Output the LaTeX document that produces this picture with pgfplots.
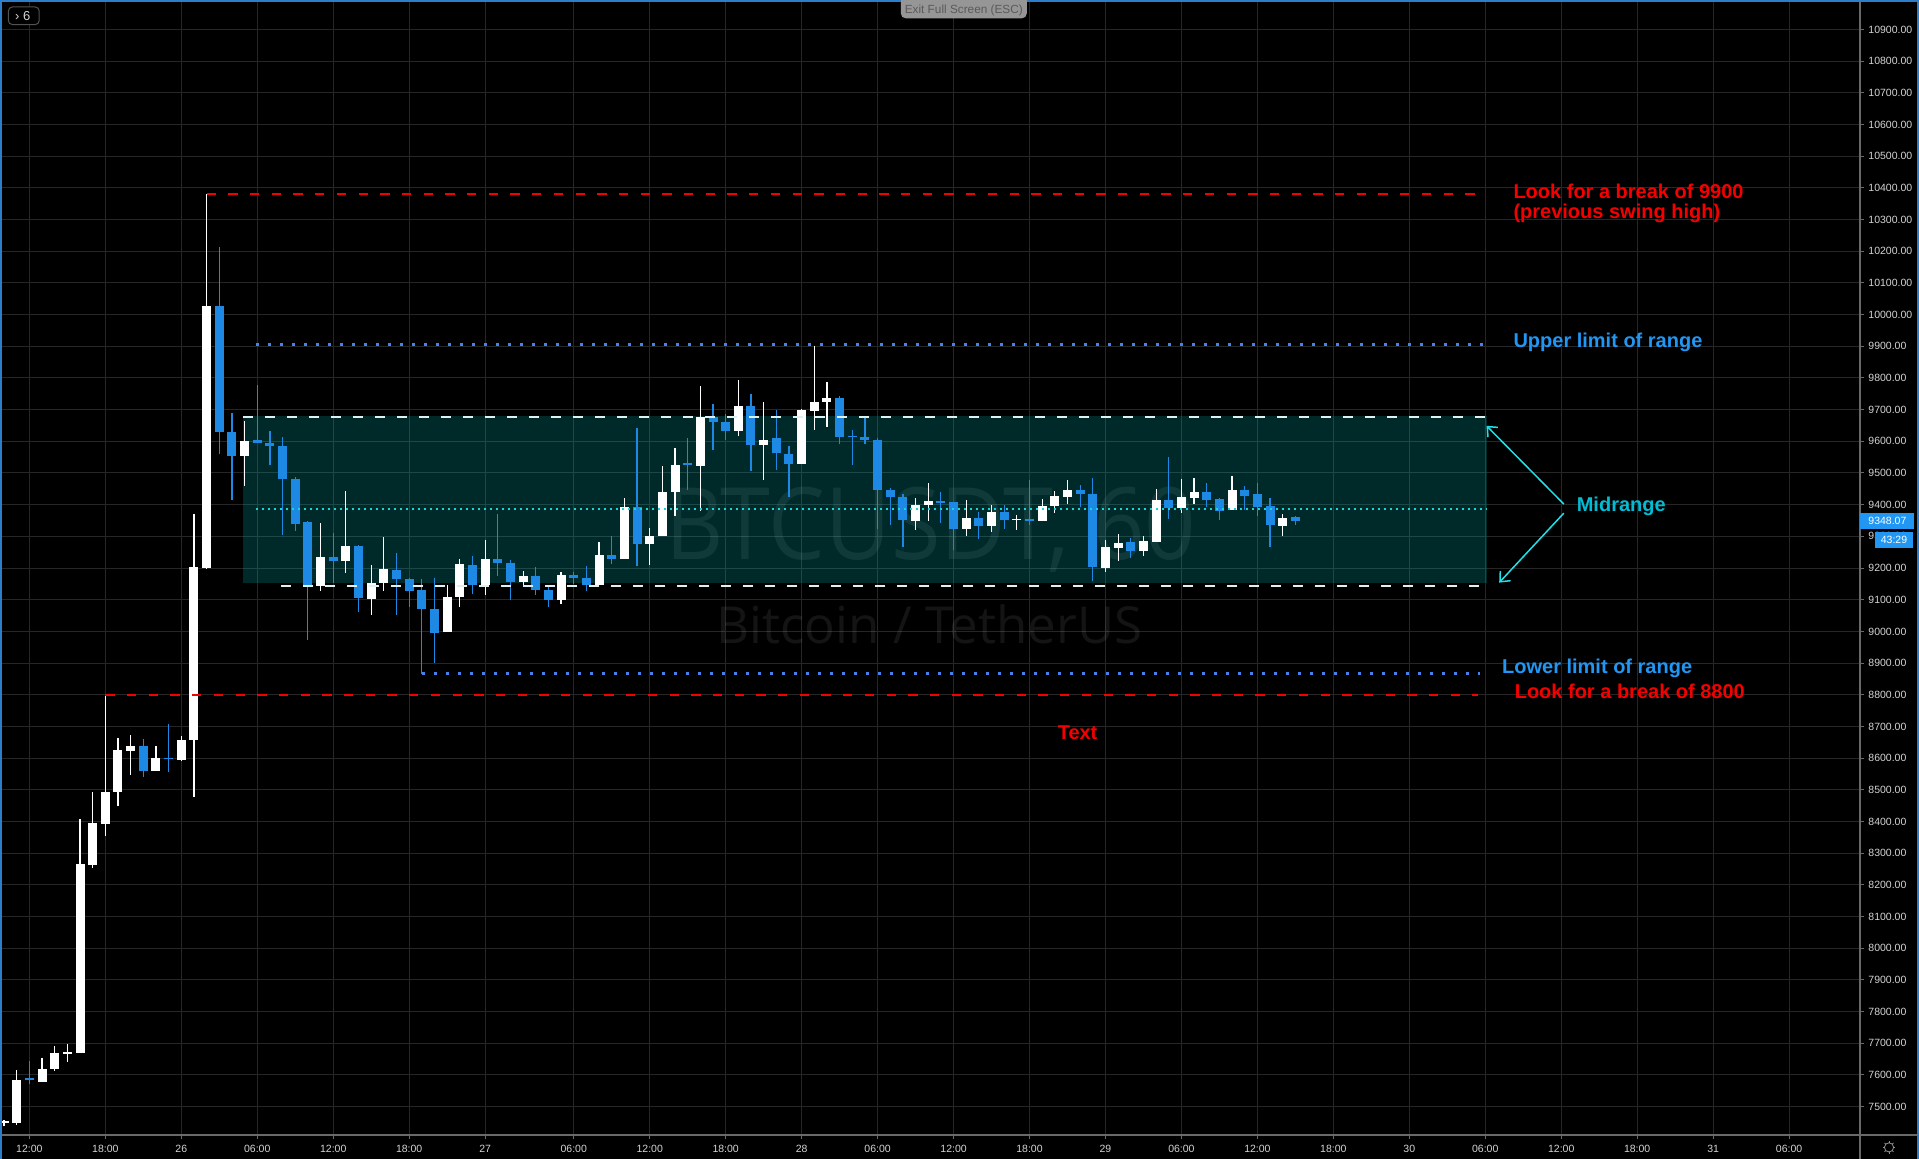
\documentclass[border=0pt]{standalone}
\usepackage{pgfplots}
\pgfplotsset{compat=1.18}
\usepackage{pgfplotstable}
\usepackage{fontspec}
\setmainfont{Liberation Sans}
\newfontfamily\wmfont{Open Sans}
\usetikzlibrary{arrows.meta}

\definecolor{bg}{RGB}{0,0,0}
\definecolor{gridc}{RGB}{38,38,38}
\definecolor{axisc}{RGB}{105,105,105}
\definecolor{ticktext}{RGB}{212,212,212}
\definecolor{bull}{RGB}{255,255,255}
\definecolor{bear}{RGB}{30,136,229}
\definecolor{rangefill}{RGB}{0,210,210}
\definecolor{rangeedge}{RGB}{222,240,240}
\definecolor{midc}{RGB}{20,215,215}
\definecolor{limitc}{RGB}{70,130,235}
\definecolor{breakc}{RGB}{245,0,0}
\definecolor{labelblue}{RGB}{33,150,243}
\definecolor{labelcyan}{RGB}{0,188,212}
\definecolor{arrowc}{RGB}{30,225,235}
\definecolor{framec}{RGB}{45,125,205}
\definecolor{pricebox}{RGB}{33,150,243}
\definecolor{hintfill}{RGB}{150,150,150}
\definecolor{hinttext}{RGB}{90,90,90}

% hourly BTCUSDT candles, x = bar index (0 = 25th 12:00)
\pgfplotstableread{
i    o      h      l      c
-2   7447   7458   7440   7455
-1   7448   7616   7443   7585
0    7590   7643   7570   7585
1    7578   7652   7578   7620
2    7620   7691   7612   7669
3    7665   7698   7640   7672
4    7668   8408   7668   8266
5    8264   8494   8252   8395
6    8393   8800   8354   8494
7    8492   8665   8448   8626
8    8624   8673   8546   8637
9    8637   8660   8539   8558
10   8560   8637   8559   8601
11   8602   8709   8555   8597
12   8593   8671   8591   8657
13   8656   9372   8477   9202
14   9200   10380  9198   10028
15   10028  10212  9561   9630
16   9630   9690   9416   9553
17   9553   9665   9458   9602
18   9604   9779   9594   9594
19   9595   9634   9526   9584
20   9586   9614   9303   9481
21   9482   9488   9316   9339
22   9346   9350   8972   9141
23   9142   9343   9126   9236
24   9236   9312   9152   9221
25   9221   9444   9183   9271
26   9271   9274   9060   9104
27   9101   9211   9053   9154
28   9154   9299   9129   9198
29   9195   9248   9051   9165
30   9166   9168   9076   9129
31   9132   9166   8866   9071
32   9072   9169   8900   8995
33   8997   9146   8997   9109
34   9107   9230   9076   9214
35   9210   9239   9119   9148
36   9145   9289   9114   9229
37   9228   9372   9176   9216
38   9217   9226   9098   9155
39   9155   9190   9142   9176
40   9176   9204   9114   9131
41   9132   9142   9076   9099
42   9099   9188   9088   9179
43   9179   9188   9150   9167
44   9169   9207   9129   9148
45   9147   9283   9147   9242
46   9241   9300   9212   9229
47   9229   9422   9229   9394
48   9394   9643   9207   9275
49   9275   9327   9211   9302
50   9300   9523   9300   9441
51   9439   9580   9363   9525
52   9532   9612   9445   9524
53   9521   9776   9379   9678
54   9678   9719   9572   9661
55   9662   9687   9603   9632
56   9632   9795   9616   9713
57   9713   9750   9505   9587
58   9587   9723   9477   9605
59   9612   9700   9511   9562
60   9561   9584   9423   9527
61   9527   9703   9527   9698
62   9695   9902   9635   9725
63   9723   9786   9644   9738
64   9737   9744   9593   9613
65   9618   9637   9526   9613
66   9614   9681   9593   9603
67   9605   9611   9324   9445
68   9447   9453   9337   9424
69   9424   9434   9265   9351
70   9347   9421   9321   9400
71   9398   9468   9347   9413
72   9413   9440   9342   9407
73   9409   9409   9256   9323
74   9323   9416   9300   9359
75   9359   9376   9293   9332
76   9332   9400   9313   9378
77   9378   9400   9324   9352
78   9352   9368   9321   9355
79   9356   9479   9337   9347
80   9347   9419   9347   9397
81   9396   9442   9374   9426
82   9424   9479   9403   9447
83   9447   9463   9393   9434
84   9435   9484   9160   9202
85   9200   9288   9187   9266
86   9263   9307   9222   9278
87   9282   9295   9232   9255
88   9255   9301   9239   9285
89   9283   9449   9283   9415
90   9415   9551   9356   9391
91   9389   9481   9374   9424
92   9421   9484   9402   9440
93   9440   9468   9394   9416
94   9418   9421   9352   9381
95   9383   9491   9383   9446
96   9446   9459   9383   9428
97   9434   9468   9364   9394
98   9396   9421   9267   9337
99   9333   9371   9301   9358
100  9361   9364   9336   9348.07
}\candles

\newcommand{\ticksize}{\fontsize{5.25}{6.3}\selectfont}
\newcommand{\notesize}{\bfseries\fontsize{10}{12}\selectfont}

% one candle layer: wicks or bodies drawn as vertical error bars
% #1 = domain of close-open, #2 = bar width, #3 = colour
\pgfplotsset{
  candle layer/.style n args={3}{
    draw=none, mark=none, forget plot,
    restrict expr to domain={\thisrow{c}-\thisrow{o}}{#1},
    error bars/.cd, y dir=both, y explicit, error mark=none,
    error bar style={line width=#2, draw=#3},
  },
}

\begin{document}
\begin{tikzpicture}[x=1pt,y=1pt]
\fill[bg] (0,0) rectangle (959.5,579.5);
\path[use as bounding box] (0,0) rectangle (959.5,579.5);
\begin{axis}[
  at={(0pt,12pt)}, anchor=south west,
  scale only axis, width=930pt, height=567.5pt,
  xmin=-2.32, xmax=144.6, ymin=7410.4, ymax=10993.1,
  axis x line*=bottom, axis y line*=right,
  axis line style={draw=none},
  xtick={0,6,12,18,24,30,36,43,49,55,61,67,73,79,85,91,97,103,109,115,121,127,133,139},
  xticklabels={12:00,18:00,26,06:00,12:00,18:00,27,06:00,12:00,18:00,28,06:00,12:00,18:00,29,06:00,12:00,18:00,30,06:00,12:00,18:00,31,06:00},
  ytick={7500,7600,...,10900},
  scaled y ticks=false,
  grid=major,
  major grid style={draw=gridc, line width=0.5pt},
  tick style={draw=axisc, line width=0.5pt},
  tick align=outside, major tick length=2pt,
  tick label style={font=\ticksize, text=ticktext},
  xticklabel style={inner sep=0pt, yshift=-2.75pt},
  yticklabel style={inner sep=0pt, xshift=2pt, anchor=west,
    /pgf/number format/.cd, fixed, fixed zerofill, precision=2, 1000 sep={}},
  /pgf/number format/assume math mode=true,
]

% symbol watermark
\node[anchor=base, text=white, text opacity=0.08, inner sep=0pt,
      font=\wmfont\fontsize{50}{50}\selectfont, xscale=0.9]
  at (axis cs:71.2,9225.4) {BTCUSDT, 60};
\node[anchor=base, text=white, text opacity=0.08, inner sep=0pt,
      font=\wmfont\fontsize{25.5}{26}\selectfont]
  at (axis cs:71.1,8962.5) {Bitcoin / TetherUS};

% consolidation range
\addplot[fill=rangefill, fill opacity=0.2, draw=none, forget plot]
  coordinates {(16.9,9153) (115.1,9153) (115.1,9679) (16.9,9679)};

% wicks
\addplot[candle layer={0:100000}{0.6pt}{bull}]
  table[x=i, y expr={(\thisrow{h}+\thisrow{l})/2},
        y error expr={(\thisrow{h}-\thisrow{l})/2}] {\candles};
\addplot[candle layer={-100000:-0.001}{0.6pt}{bear}]
  table[x=i, y expr={(\thisrow{h}+\thisrow{l})/2},
        y error expr={(\thisrow{h}-\thisrow{l})/2}] {\candles};
% bodies
\addplot[candle layer={0:100000}{4.5pt}{bull}]
  table[x=i, y expr={(\thisrow{o}+\thisrow{c})/2},
        y error expr={max(abs(\thisrow{c}-\thisrow{o})/2,1.8)}] {\candles};
\addplot[candle layer={-100000:-0.001}{4.5pt}{bear}]
  table[x=i, y expr={(\thisrow{o}+\thisrow{c})/2},
        y error expr={max(abs(\thisrow{c}-\thisrow{o})/2,1.8)}] {\candles};

% range edges and midline
\addplot[rangeedge, line width=0.9pt, dash pattern=on 5pt off 6pt, forget plot]
  coordinates {(16.9,9678) (115.1,9678)};
\addplot[rangeedge, line width=0.9pt, dash pattern=on 5pt off 6pt, forget plot]
  coordinates {(19.9,9143) (114.6,9143)};
\addplot[midc, line width=1pt, dash pattern=on 1pt off 2pt, forget plot]
  coordinates {(17.9,9387) (115.1,9387)};

% limits of range
\addplot[limitc, line width=1.5pt, dash pattern=on 1.5pt off 4.5pt, forget plot]
  coordinates {(17.9,9907) (114.8,9907)};
\addplot[limitc, line width=1.5pt, dash pattern=on 1.5pt off 4.5pt, forget plot]
  coordinates {(31,8867) (114.6,8867)};

% breakout levels
\addplot[breakc, line width=1pt, dash pattern=on 4.65pt off 6.2pt, forget plot]
  coordinates {(14,10380) (115.1,10380)};
\addplot[breakc, line width=1pt, dash pattern=on 4.65pt off 6.2pt, forget plot]
  coordinates {(6,8800) (114.4,8800)};

% midrange arrows
\addplot[arrowc, line width=0.75pt, -{Straight Barb[length=4pt,width=7pt]}, forget plot]
  coordinates {(121.2,9402) (115.1,9649)};
\addplot[arrowc, line width=0.75pt, -{Straight Barb[length=4pt,width=7pt]}, forget plot]
  coordinates {(121.2,9373) (116.1,9154)};

% notes
\node[anchor=base west, inner sep=0pt, text=breakc, font=\notesize]
  at (axis cs:117.2,10367) {Look for a break of 9900};
\node[anchor=base west, inner sep=0pt, text=breakc, font=\notesize]
  at (axis cs:117.2,10304) {(previous swing high)};
\node[anchor=base west, inner sep=0pt, text=labelblue, font=\notesize]
  at (axis cs:117.2,9895.6) {Upper limit of range};
\node[anchor=base west, inner sep=0pt, text=labelcyan, font=\notesize]
  at (axis cs:122.2,9378) {Midrange};
\node[anchor=base west, inner sep=0pt, text=labelblue, font=\notesize]
  at (axis cs:116.3,8867.8) {Lower limit of range};
\node[anchor=base west, inner sep=0pt, text=breakc, font=\notesize]
  at (axis cs:117.3,8787.6) {Look for a break of 8800};
\node[anchor=base west, inner sep=0pt, text=breakc, font=\notesize]
  at (axis cs:81.2,8660) {Text};

\coordinate (lastprice) at (axis cs:144.6,9348.07);
\end{axis}

% panel separators
\draw[axisc, line width=0.6pt] (0,12) -- (959.5,12);
\draw[axisc, line width=0.6pt] (930,0) -- (930,579.5);

% last price and countdown
\fill[pricebox] ([yshift=-4pt]lastprice) rectangle ++(27,8);
\node[anchor=west, inner sep=0pt, text=white, font=\ticksize] at ([xshift=4pt]lastprice) {9348.07};
\fill[pricebox] ([xshift=7.5pt,yshift=-13.25pt]lastprice) rectangle ++(19,7.75);
\node[inner sep=0pt, text=white, font=\ticksize] at ([xshift=17pt,yshift=-9.3pt]lastprice) {43:29};

% settings icon
\draw[ticktext!70!black, line width=0.4pt] (944.5,5.8) circle (2.3);
\foreach \a in {0,45,...,315}
  \draw[ticktext!70!black, line width=0.4pt] (944.5,5.8) ++(\a:2.3) -- ++(\a:0.9);

% interval button
\draw[rounded corners=2pt, draw=white!32!black, fill=black, line width=0.5pt] (4.2,567.2) rectangle (19.6,576);
\node[text=ticktext, font=\fontsize{6.5}{7}\selectfont, inner sep=0pt] at (11.4,571.6) {› 6};

% full-screen hint
\fill[hintfill, rounded corners=2.5pt] (450.4,570.3) rectangle (513.4,582);
\node[anchor=base, text=hinttext, font=\fontsize{5.9}{6}\selectfont, inner sep=0pt] at (481.9,572.9) {Exit Full Screen (ESC)};

% window frame
\draw[framec, line width=1pt] (0.5,0) -- (0.5,579) -- (450.4,579);
\draw[framec, line width=1pt] (513.4,579) -- (959,579) -- (959,0);
\end{tikzpicture}
\end{document}
